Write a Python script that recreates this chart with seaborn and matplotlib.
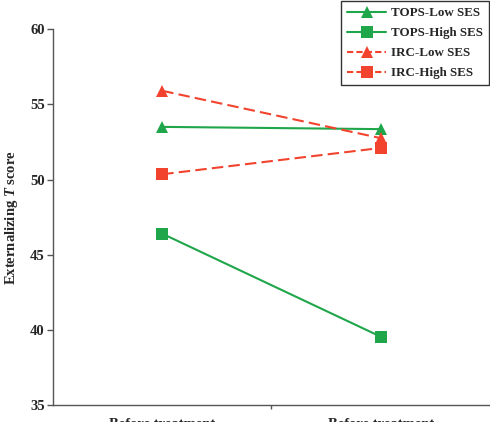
import matplotlib
matplotlib.use("Agg")
import matplotlib.pyplot as plt
import pandas as pd
import seaborn as sns
from matplotlib.lines import Line2D

# --- data ---
time_labels = ["Before treatment", "Before treatment"]
groups = ["TOPS-Low SES", "TOPS-High SES", "IRC-Low SES", "IRC-High SES"]
tops_low = [53.5, 53.35]
tops_high = [46.4, 39.55]
irc_low = [55.9, 52.75]
irc_high = [50.35, 52.1]

GREEN = "#1fa64a"
RED = "#f2432e"

sns.set_theme(style="ticks")
plt.rcParams["font.family"] = ["Liberation Serif", "DejaVu Serif"]
plt.rcParams["font.weight"] = "bold"
plt.rcParams["mathtext.fontset"] = "custom"
plt.rcParams["mathtext.it"] = "Liberation Serif:italic:bold"
plt.rcParams["mathtext.rm"] = "Liberation Serif:bold"

rows = []
for g, vals in zip(groups, [tops_low, tops_high, irc_low, irc_high]):
    for t, v in enumerate(vals):
        rows.append({"time": t, "score": v, "group": g})
df = pd.DataFrame(rows)

palette = {"TOPS-Low SES": GREEN, "TOPS-High SES": GREEN,
           "IRC-Low SES": RED, "IRC-High SES": RED}
markers = {"TOPS-Low SES": "^", "TOPS-High SES": "s",
           "IRC-Low SES": "^", "IRC-High SES": "s"}
dashes = {"TOPS-Low SES": "", "TOPS-High SES": "",
          "IRC-Low SES": (5.5, 2.5), "IRC-High SES": (5.5, 2.5)}

fig = plt.figure(figsize=(4.9, 4.22), dpi=100)
ax = fig.add_axes([0.108, 0.040, 0.892, 0.891])
sns.lineplot(data=df, x="time", y="score", hue="group", style="group",
             palette=palette, markers=markers, dashes=dashes,
             markersize=8, linewidth=1.5, markeredgewidth=0,
             legend=False, ax=ax)

ax.set_xlim(-0.5, 1.5)
ax.set_ylim(35, 60)
ax.set_yticks([35, 40, 45, 50, 55, 60])
ax.set_xticks([0, 1])
ax.set_xticklabels(time_labels)
ax.set_xticks([0.5], minor=True)
ax.tick_params(axis="x", which="major", length=0, pad=9, labelsize=10.5)
ax.tick_params(axis="x", which="minor", length=3, width=1, color="#555555")
ax.tick_params(axis="y", length=4, width=1, color="#555555", labelsize=10.5, pad=2)
ax.set_xlabel("")
ax.set_ylabel(r"Externalizing $T$ score", fontsize=10.5, fontweight="bold", labelpad=7)
for s in ["top", "right"]:
    ax.spines[s].set_visible(False)
for s in ["left", "bottom"]:
    ax.spines[s].set_color("#555555")
    ax.spines[s].set_linewidth(1)

handles = [Line2D([], [], color=palette[g], marker=markers[g], markersize=8,
                  markeredgewidth=0, linewidth=1.5,
                  linestyle="-" if dashes[g] == "" else (0, (3, 1.5)))
           for g in groups]
leg = fig.legend(handles, groups, loc="upper right", bbox_to_anchor=(1.0, 1.0),
                 frameon=True, fancybox=False, framealpha=1, edgecolor="#333333",
                 handlelength=3.0, handletextpad=0.35, borderpad=0.45,
                 borderaxespad=0.1, labelspacing=0.6,
                 prop={"size": 9.4, "weight": "bold"})
leg.get_frame().set_linewidth(1)

fig.savefig("out.png", dpi=100)
